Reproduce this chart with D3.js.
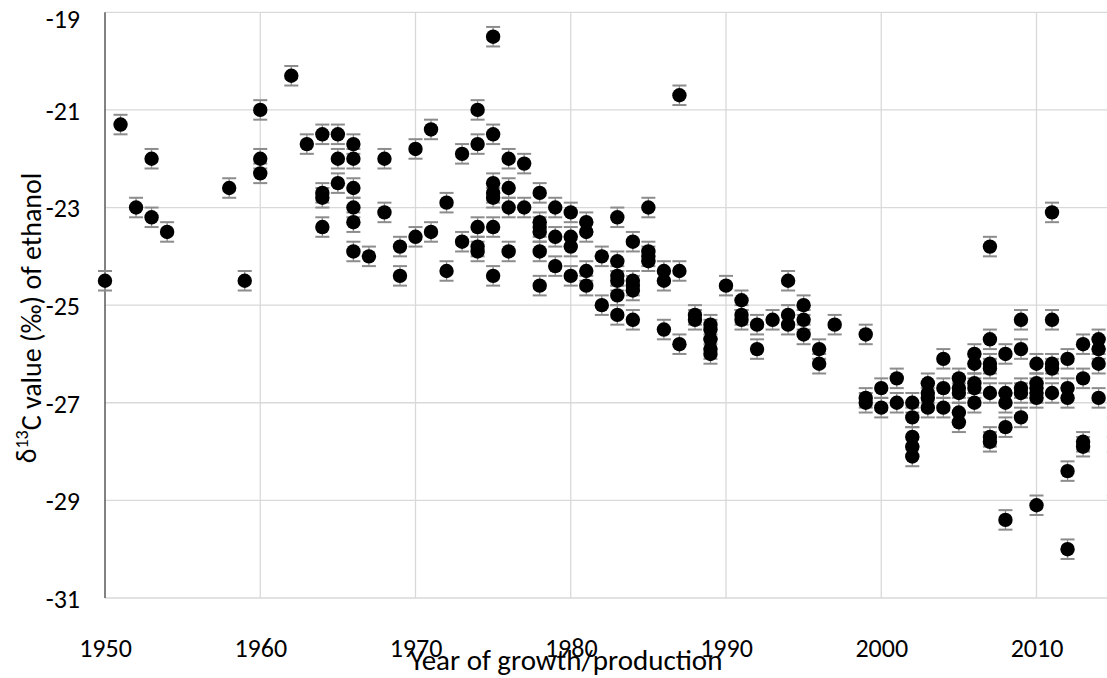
<!DOCTYPE html>
<html>
<head>
<style>
  body { margin: 0; background: #fff; }
  svg { display: block; font-family: Carlito, Calibri, Lato, sans-serif; }
</style>
</head>
<body>
<div id="chart"></div>
<script src="https://d3js.org/d3.v7.min.js"></script>
<script>
// year of growth/production, one entry per group of samples
var sampleYears = [1950, 1951, 1952, 1953, 1954, 1958, 1959, 1960, 1962, 1963,
  1964, 1965, 1966, 1967, 1968, 1969, 1970, 1971, 1972, 1973,
  1974, 1975, 1976, 1977, 1978, 1979, 1980, 1981, 1982, 1983,
  1984, 1985, 1986, 1987, 1988, 1989, 1990, 1991, 1992, 1993,
  1994, 1995, 1996, 1997, 1999, 2000, 2001, 2002, 2003, 2004,
  2005, 2006, 2007, 2008, 2009, 2010, 2011, 2012, 2013, 2014, 2015];

// d13C of ethanol (per mil) measured for each year above
var sampleValues = [
  [-24.5], [-21.3], [-23.0], [-22.0, -23.2], [-23.5], [-22.6], [-24.5],
  [-21.0, -22.0, -22.3], [-20.3], [-21.7],
  [-21.5, -22.7, -22.8, -23.4], [-21.5, -22.0, -22.5],
  [-21.7, -22.0, -22.6, -23.0, -23.3, -23.9], [-24.0], [-22.0, -23.1],
  [-23.8, -24.4], [-21.8, -23.6], [-21.4, -23.5], [-22.9, -24.3], [-21.9, -23.7],
  [-21.0, -21.7, -23.4, -23.8, -23.9],
  [-19.5, -21.5, -22.5, -22.7, -22.8, -23.4, -24.4],
  [-22.0, -22.6, -23.0, -23.9], [-22.1, -23.0],
  [-22.7, -23.3, -23.4, -23.5, -23.9, -24.6], [-23.0, -23.6, -24.2],
  [-23.1, -23.6, -23.8, -24.4], [-23.3, -23.5, -24.3, -24.6], [-24.0, -25.0],
  [-23.2, -24.1, -24.4, -24.5, -24.8, -25.2],
  [-23.7, -24.5, -24.6, -24.7, -25.3], [-23.0, -23.9, -24.0, -24.1],
  [-24.3, -24.5, -25.5], [-20.7, -24.3, -25.8], [-25.2, -25.3],
  [-25.4, -25.5, -25.7, -25.9, -26.0], [-24.6], [-24.9, -25.2, -25.3],
  [-25.4, -25.9], [-25.3],
  [-24.5, -25.2, -25.4], [-25.0, -25.3, -25.6], [-25.9, -26.2], [-25.4],
  [-25.6, -26.9, -27.0], [-26.7, -27.1], [-26.5, -27.0],
  [-27.0, -27.3, -27.7, -27.9, -28.1], [-26.6, -26.8, -26.9, -27.1],
  [-26.1, -26.7, -27.1],
  [-26.5, -26.7, -26.8, -27.2, -27.4], [-26.0, -26.2, -26.6, -26.7, -27.0],
  [-23.8, -25.7, -26.2, -26.3, -26.8, -27.7, -27.8],
  [-26.0, -26.8, -27.0, -27.5, -29.4], [-25.3, -25.9, -26.7, -26.8, -27.3],
  [-26.2, -26.6, -26.7, -26.8, -26.9, -29.1], [-23.1, -25.3, -26.2, -26.3, -26.8],
  [-26.1, -26.7, -26.9, -28.4, -30.0], [-25.8, -26.5, -27.8, -27.9],
  [-25.7, -25.9, -26.2, -26.9], [-26.4, -27.3, -27.7, -28.0, -28.9]
];

var errorHalf = 0.2;   // +/- analytical uncertainty
var xTicks = [1950, 1960, 1970, 1980, 1990, 2000, 2010];
var yTicks = [-31, -29, -27, -25, -23, -21, -19];

var points = [];
sampleYears.forEach(function(yr, i) {
  sampleValues[i].forEach(function(v) { points.push({year: yr, value: v}); });
});

var width = 1107, height = 678;
var plotLeft = 105, plotTop = 12.3, plotBottom = 598;

var svg = d3.select("#chart").append("svg")
  .attr("width", width)
  .attr("height", height);

var x = d3.scaleLinear().domain([1950, 2020]).range([plotLeft, plotLeft + 70 * 15.525]);
var y = d3.scaleLinear().domain([-31, -19]).range([plotBottom, plotTop]);

// grid
svg.append("g").selectAll("line")
  .data(yTicks)
  .join("line")
    .attr("x1", plotLeft).attr("x2", width)
    .attr("y1", d => y(d)).attr("y2", d => y(d))
    .attr("stroke", "#d9d9d9")
    .attr("stroke-width", 1.3);

svg.append("g").selectAll("line")
  .data(xTicks.slice(1))
  .join("line")
    .attr("x1", d => x(d)).attr("x2", d => x(d))
    .attr("y1", plotTop).attr("y2", plotBottom)
    .attr("stroke", "#d9d9d9")
    .attr("stroke-width", 1.3);

svg.append("line")
  .attr("x1", plotLeft).attr("x2", plotLeft)
  .attr("y1", plotTop).attr("y2", plotBottom)
  .attr("stroke", "#595959")
  .attr("stroke-width", 1.5);

// tick labels (plain hyphen as minus, like the original)
var xAxis = svg.append("g")
  .attr("transform", "translate(0," + plotBottom + ")")
  .call(d3.axisBottom(x).tickValues(xTicks).tickFormat(d => String(d)).tickSize(0).tickPadding(41));
xAxis.select(".domain").remove();

var yAxis = svg.append("g")
  .attr("transform", "translate(" + plotLeft + ",0)")
  .call(d3.axisLeft(y).tickValues(yTicks).tickFormat(d => String(d)).tickSize(0).tickPadding(25));
yAxis.select(".domain").remove();

svg.selectAll(".tick text")
  .attr("fill", "#000")
  .style("font-family", "Carlito, Calibri, Lato, sans-serif")
  .style("font-size", "26px");
yAxis.selectAll(".tick text")
  .attr("dy", d => d === -19 ? "0.6em" : "0.36em");

// error bars
var eb = svg.append("g")
  .attr("stroke", "#8c8c8c")
  .attr("stroke-width", 2);

eb.selectAll("line.v")
  .data(points)
  .join("line")
    .attr("class", "v")
    .attr("x1", d => x(d.year)).attr("x2", d => x(d.year))
    .attr("y1", d => y(d.value + errorHalf)).attr("y2", d => y(d.value - errorHalf))
    .attr("stroke-width", 1.3);

eb.selectAll("line.top")
  .data(points)
  .join("line")
    .attr("class", "top")
    .attr("x1", d => x(d.year) - 7).attr("x2", d => x(d.year) + 7)
    .attr("y1", d => y(d.value + errorHalf)).attr("y2", d => y(d.value + errorHalf));

eb.selectAll("line.bot")
  .data(points)
  .join("line")
    .attr("class", "bot")
    .attr("x1", d => x(d.year) - 7).attr("x2", d => x(d.year) + 7)
    .attr("y1", d => y(d.value - errorHalf)).attr("y2", d => y(d.value - errorHalf));

svg.append("g").selectAll("circle")
  .data(points)
  .join("circle")
    .attr("cx", d => x(d.year))
    .attr("cy", d => y(d.value))
    .attr("r", 7.2)
    .attr("fill", "#000");

// titles
svg.append("text")
  .attr("x", 566)
  .attr("y", 670)
  .attr("text-anchor", "middle")
  .style("font-size", "29px")
  .text("Year of growth/production");

var yt = svg.append("text")
  .attr("transform", "translate(36,318) rotate(-90)")
  .attr("text-anchor", "middle")
  .style("font-size", "28px");
yt.append("tspan").text("δ");
yt.append("tspan").attr("dy", "-0.45em").style("font-size", "18px").text("13");
yt.append("tspan").attr("dy", "0.45em").text("C value (‰) of ethanol");
</script>
</body>
</html>
